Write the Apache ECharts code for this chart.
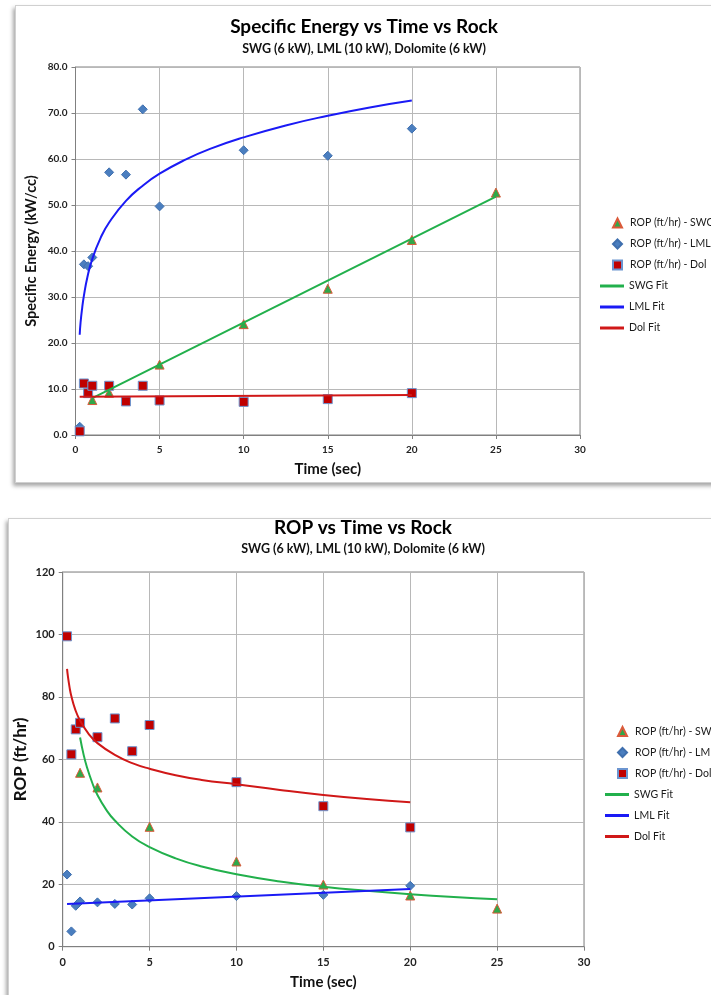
<!DOCTYPE html>
<html>
<head>
<meta charset="utf-8">
<script src="https://cdn.jsdelivr.net/npm/echarts@6/dist/echarts.min.js"></script>
<style>
html, body { margin: 0; padding: 0; width: 711px; height: 995px; overflow: hidden; background: #fff; }
.panel { position: absolute; background: #fff; border: 1px solid #d0d0d0; box-shadow: -2px 3px 4px rgba(0, 0, 0, 0.35); }
#energy { left: 15px; top: 5px; width: 740px; height: 476px; }
#rop { left: 8px; top: 518px; width: 740px; height: 480px; }
</style>
</head>
<body>
<div id="energy" class="panel"></div>
<div id="rop" class="panel"></div>
<script>
// Specific Energy vs Time
var seSwgPts = [[1, 7.6], [2, 9.2], [5, 15.3], [10, 24.1], [15, 31.8], [20, 42.4], [25, 52.7]];
var seLmlPts = [[0.25, 1.8], [0.5, 37.1], [0.75, 36.7], [1, 38.6], [2, 57.1], [3, 56.6], [4, 70.8], [5, 49.7], [10, 61.9], [15, 60.7], [20, 66.6]];
var seDolPts = [[0.25, 0.8], [0.5, 11.2], [0.75, 9.1], [1, 10.7], [2, 10.7], [3, 7.3], [4, 10.7], [5, 7.5], [10, 7.2], [15, 7.8], [20, 9.1]];
var seSwgFit = [[1, 8.0], [25, 51.8]];
var seLmlFit = [[0.25, 21.8], [0.3, 24.4], [0.4, 27.7], [0.5, 30.3], [0.7, 34.2], [1, 38.3], [1.5, 42.9], [2, 46.2], [3, 50.9],
    [4, 54.2], [5, 56.8], [6.5, 59.8], [8, 62.2], [10, 64.7], [12.5, 67.3], [15, 69.4], [17.5, 71.2], [20, 72.7]];
var seDolFit = [[0.25, 8.3], [20, 8.7]];

// ROP vs Time
var ropSwgPts = [[1, 55.7], [2, 51.0], [5, 38.4], [10, 27.3], [15, 19.9], [20, 16.4], [25, 12.2]];
var ropLmlPts = [[0.25, 23.1], [0.5, 4.9], [0.75, 13.1], [1, 14.5], [2, 14.2], [3, 13.7], [4, 13.5], [5, 15.5], [10, 16.2], [15, 16.6], [20, 19.5]];
var ropDolPts = [[0.25, 99.4], [0.5, 61.6], [0.75, 69.6], [1, 71.7], [2, 67.1], [3, 73.1], [4, 62.6], [5, 71.0], [10, 52.7], [15, 45.0], [20, 38.2]];
var ropSwgFit = [[1, 67], [1.2, 61.6], [1.4, 57.4], [1.7, 52.5], [2, 48.6], [2.5, 43.9], [3, 40.4], [4, 35.3], [5, 31.9],
    [6.5, 28.3], [8, 25.7], [10, 23.2], [12.5, 20.9], [15, 19.2], [17.5, 17.9], [20, 16.8], [22.5, 15.9], [25, 15.2]];
var ropLmlFit = [[0.25, 13.7], [20, 18.5]];
var ropDolFit = [[0.25, 89], [0.3, 86.6], [0.4, 82.9], [0.5, 80.2], [0.7, 76.3], [1, 72.4], [1.5, 68.1], [2, 65.2], [3, 61.4],
    [4, 58.8], [5, 57.0], [6.5, 54.9], [8, 53.4], [10, 52.0], [12.5, 50.2], [15, 48.6], [17.5, 47.3], [20, 46.3]];

var timeTicks = { min: 0, max: 30, step: 5 };
var seTicks = { min: 0, max: 80, step: 10, digits: 1 };
var ropTicks = { min: 0, max: 120, step: 20, digits: 0 };

var pointNames = ["ROP (ft/hr) - SWG", "ROP (ft/hr) - LML", "ROP (ft/hr) - Dol"];
var fitNames = ["SWG Fit", "LML Fit", "Dol Fit"];

var FONT = "Lato, 'Open Sans', sans-serif";

function makeOption(c) {
    var axisLabel = { fontSize: c.labelSize, fontWeight: "bold", color: "#222", fontFamily: FONT };
    var legendText = { fontSize: 10.5, color: "#1a1a1a", lineHeight: 14, fontFamily: FONT };
    return {
        animation: false,
        textStyle: { fontFamily: FONT },
        title: [
            { text: c.title, left: c.titleX, top: c.titleTop, textAlign: "center", padding: 0,
              textStyle: { fontSize: 19, fontWeight: "bold", color: "#000", fontFamily: FONT } },
            { text: c.subtitle, left: c.titleX, top: c.subTop, textAlign: "center", padding: 0,
              textStyle: { fontSize: 12.5, fontWeight: "bold", color: "#111", fontFamily: FONT } }
        ],
        grid: { left: c.grid[0], top: c.grid[1], width: c.grid[2], height: c.grid[3],
                show: true, borderColor: "#808080", borderWidth: 1, outerBoundsMode: "none" },
        xAxis: {
            type: "value", min: timeTicks.min, max: timeTicks.max, interval: timeTicks.step,
            name: "Time (sec)", nameLocation: "middle", nameGap: c.xNameGap, nameMoveOverlap: false,
            nameTextStyle: { fontSize: 15, fontWeight: "bold", color: "#111", fontFamily: FONT },
            axisLine: { show: true, lineStyle: { color: "#808080" } },
            axisTick: { show: true, length: 4, lineStyle: { color: "#808080" } },
            axisLabel: Object.assign({ margin: 10 }, axisLabel),
            splitLine: { show: true, lineStyle: { color: "#b8b8b8", width: 1 } }
        },
        yAxis: {
            type: "value", min: c.yTicks.min, max: c.yTicks.max, interval: c.yTicks.step,
            name: c.yName, nameLocation: "middle", nameGap: c.yNameGap, nameMoveOverlap: false,
            nameTextStyle: { fontSize: c.yNameSize, fontWeight: "bold", color: "#111", fontFamily: FONT },
            axisLine: { show: true, lineStyle: { color: "#808080" } },
            axisTick: { show: true, length: 4, lineStyle: { color: "#808080" } },
            axisLabel: Object.assign({ margin: 8, formatter: function (v) { return v.toFixed(c.yTicks.digits); } }, axisLabel),
            splitLine: { show: true, lineStyle: { color: "#b8b8b8", width: 1 } }
        },
        legend: [
            // markers sit a bit further from their text than echarts' default
            { data: pointNames, orient: "vertical", left: c.legendX - 17, top: c.legendTop, padding: 0,
              itemWidth: 9, itemHeight: 9, itemGap: 7,
              textStyle: Object.assign({ padding: [0, 0, 0, 3] }, legendText) },
            { data: fitNames.map(function (n) { return { name: n, icon: "rect" }; }), orient: "vertical",
              left: c.legendX - 29, top: c.legendTop + 63, padding: 0,
              itemWidth: 24, itemHeight: 3, itemGap: 7, textStyle: legendText }
        ],
        series: [
            { name: pointNames[0], type: "scatter", data: c.swgPts, symbol: "triangle", symbolSize: 9, z: 3,
              itemStyle: { color: "#2FA84A", borderColor: "#DB5A3A", borderWidth: 1, opacity: 1 } },
            { name: pointNames[1], type: "scatter", data: c.lmlPts, symbol: "diamond", symbolSize: 9, z: 3,
              itemStyle: { color: "#4A7EBF", borderColor: "#3F6FAE", borderWidth: 1, opacity: 1 } },
            { name: pointNames[2], type: "scatter", data: c.dolPts, symbol: "rect", symbolSize: 9, z: 3,
              itemStyle: { color: "#C00000", borderColor: "#6C95D0", borderWidth: 1, opacity: 1 } },
            { name: fitNames[0], type: "line", data: c.swgFit, showSymbol: false, symbol: "none", smooth: true,
              lineStyle: { color: "#22B04C", width: 2 }, itemStyle: { color: "#22B04C" }, z: 4 },
            { name: fitNames[1], type: "line", data: c.lmlFit, showSymbol: false, symbol: "none", smooth: true,
              lineStyle: { color: "#1A1AF5", width: 2 }, itemStyle: { color: "#1A1AF5" }, z: 4 },
            { name: fitNames[2], type: "line", data: c.dolFit, showSymbol: false, symbol: "none", smooth: true,
              lineStyle: { color: "#D01818", width: 2 }, itemStyle: { color: "#D01818" }, z: 4 }
        ]
    };
}

var energyChart = echarts.init(document.getElementById("energy"));
energyChart.setOption(makeOption({
    title: "Specific Energy vs Time vs Rock",
    subtitle: "SWG (6 kW), LML (10 kW), Dolomite (6 kW)",
    titleX: 348, titleTop: 11.5, subTop: 36.5,
    grid: [59.5, 61, 504.5, 368], labelSize: 10,
    yTicks: seTicks, yName: "Specific Energy (kW/cc)", yNameGap: 37, yNameSize: 14.5, xNameGap: 27,
    legendX: 613, legendTop: 210,
    swgPts: seSwgPts, lmlPts: seLmlPts, dolPts: seDolPts,
    swgFit: seSwgFit, lmlFit: seLmlFit, dolFit: seDolFit
}));

var ropChart = echarts.init(document.getElementById("rop"));
ropChart.setOption(makeOption({
    title: "ROP vs Time vs Rock",
    subtitle: "SWG (6 kW), LML (10 kW), Dolomite (6 kW)",
    titleX: 354, titleTop: -1, subTop: 23,
    grid: [53.7, 53, 521.3, 374.7], labelSize: 11,
    yTicks: ropTicks, yName: "ROP (ft/hr)", yNameGap: 34, yNameSize: 17, xNameGap: 28,
    legendX: 625, legendTop: 205.5,
    swgPts: ropSwgPts, lmlPts: ropLmlPts, dolPts: ropDolPts,
    swgFit: ropSwgFit, lmlFit: ropLmlFit, dolFit: ropDolFit
}));
</script>
</body>
</html>
